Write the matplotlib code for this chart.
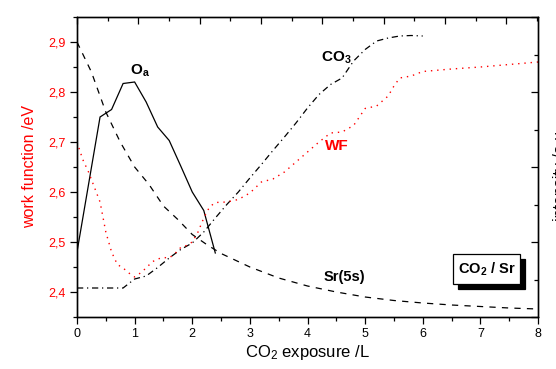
import matplotlib
matplotlib.use("Agg")
import matplotlib.pyplot as plt
from matplotlib.patches import Rectangle
from matplotlib.ticker import MultipleLocator, FixedLocator, FuncFormatter

plt.rcParams['font.family'] = ['Liberation Sans', 'DejaVu Sans']
plt.rcParams['mathtext.fontset'] = 'custom'
plt.rcParams['mathtext.rm'] = 'Liberation Sans'
plt.rcParams['mathtext.it'] = 'Liberation Sans:italic'
plt.rcParams['mathtext.bf'] = 'Liberation Sans:bold'

# ---- data ----
oa_x = [0, 0.4, 0.6, 0.8, 1.0, 1.2, 1.4, 1.6, 1.8, 2.0, 2.2, 2.4]
oa_y = [2.48, 2.75, 2.765, 2.817, 2.82, 2.78, 2.73, 2.703, 2.652, 2.60, 2.563, 2.478]

sr_x = [0, 0.25, 0.5, 0.75, 1.0, 1.25, 1.5, 1.75, 2.0, 2.25, 2.5, 3.0, 3.5, 4.0,
        4.5, 5.0, 5.5, 6.0, 6.5, 7.0, 7.5, 8.0]
sr_y = [2.90, 2.84, 2.76, 2.70, 2.65, 2.615, 2.572, 2.545, 2.515, 2.495, 2.477, 2.450,
        2.428, 2.412, 2.400, 2.390, 2.383, 2.378, 2.374, 2.371, 2.368, 2.366]

co3_x = [0, 0.8, 1.0, 1.2, 1.4, 1.6, 1.8, 2.0, 2.2, 2.4, 2.6, 2.8, 3.0, 3.2, 3.4,
         3.6, 3.8, 4.0, 4.2, 4.4, 4.6, 4.8, 5.0, 5.2, 5.4, 5.6, 5.8, 6.0]
co3_y = [2.408, 2.408, 2.426, 2.432, 2.449, 2.468, 2.485, 2.498, 2.52, 2.548, 2.575,
         2.60, 2.628, 2.655, 2.683, 2.71, 2.738, 2.768, 2.795, 2.815, 2.828, 2.862,
         2.885, 2.902, 2.908, 2.912, 2.913, 2.912]

wf_x = [0, 0.1, 0.2, 0.3, 0.4, 0.5, 0.6, 0.7, 0.8, 0.9, 1.0, 1.1, 1.2, 1.3, 1.4, 1.5,
        1.6, 1.7, 1.8, 1.9, 2.0, 2.1, 2.2, 2.3, 2.4, 2.6, 2.8, 3.0, 3.2, 3.4, 3.6, 3.8,
        4.0, 4.2, 4.4, 4.6, 4.8, 4.9, 5.0, 5.2, 5.4, 5.5, 5.6, 5.8, 6.0, 6.5, 7.0,
        7.5, 8.0]
wf_y = [2.70, 2.665, 2.64, 2.61, 2.58, 2.52, 2.48, 2.455, 2.448, 2.438, 2.430, 2.438,
        2.448, 2.46, 2.466, 2.469, 2.468, 2.477, 2.489, 2.493, 2.50, 2.52, 2.548,
        2.57, 2.579, 2.58, 2.585, 2.598, 2.62, 2.626, 2.64, 2.66, 2.68, 2.70, 2.718,
        2.72, 2.733, 2.75, 2.767, 2.772, 2.792, 2.812, 2.828, 2.832, 2.841, 2.846,
        2.850, 2.855, 2.860]

left_ticks = [2.4, 2.5, 2.6, 2.7, 2.8, 2.9]
x_ticks = [0, 1, 2, 3, 4, 5, 6, 7, 8]

# ---- figure ----
fig = plt.figure(figsize=(5.56, 3.69), dpi=100)
ax = fig.add_axes([77/556, 1-317/369, 461/556, 300/369])

ax.plot(oa_x, oa_y, color='black', lw=0.9, solid_joinstyle='miter')
l_sr, = ax.plot(sr_x, sr_y, color='black', lw=0.9)
l_sr.set_dashes([5, 5])
l_co3, = ax.plot(co3_x, co3_y, color='black', lw=0.9)
l_co3.set_dashes([5, 3, 1, 3])
l_wf, = ax.plot(wf_x, wf_y, color='#ff0000', lw=1.0)
l_wf.set_dashes([1, 3.5])

ax.set_xlim(0, 8)
ax.set_ylim(2.35, 2.95)
ax.xaxis.set_major_locator(FixedLocator(x_ticks))
ax.xaxis.set_minor_locator(MultipleLocator(0.5))
ax.yaxis.set_major_locator(FixedLocator(left_ticks))
ax.yaxis.set_minor_locator(MultipleLocator(0.05))
ax.yaxis.set_major_formatter(FuncFormatter(lambda v, p: f'{v:.1f}'.replace('.', ',')))
ax.tick_params(axis='both', which='major', direction='out', length=5, width=0.9,
               labelsize=9, pad=3)
ax.tick_params(axis='both', which='minor', direction='out', length=3, width=0.9)
ax.tick_params(axis='y', which='both', labelcolor='#ff0000')
for s in ax.spines.values():
    s.set_linewidth(0.9)

ax.set_xlabel(r'CO$_2$ exposure /L', fontsize=12, labelpad=2)
ax.set_ylabel('work function /eV', fontsize=11.5, color='#ff0000', labelpad=8)

# secondary top axis (ticks only)
axt = ax.twiny()
axt.set_xlim(0, 461/61.35)
axt.xaxis.set_major_locator(MultipleLocator(1))
axt.xaxis.set_minor_locator(MultipleLocator(0.5))
axt.tick_params(axis='x', which='major', direction='in', length=5, width=0.9, labeltop=False)
axt.tick_params(axis='x', which='minor', direction='in', length=3, width=0.9)

# secondary right axis (ticks only)
axr = ax.twinx()
axr.set_ylim(0, 4)
axr.yaxis.set_major_locator(MultipleLocator(1))
axr.yaxis.set_minor_locator(MultipleLocator(0.5))
axr.tick_params(axis='y', which='major', direction='in', length=5, width=0.9, labelright=False)
axr.tick_params(axis='y', which='minor', direction='in', length=3, width=0.9)
for a in (axt, axr):
    for s in a.spines.values():
        s.set_linewidth(0.9)

# labels
ax.text(1.09, 2.842, r'$\mathbf{O_a}$', fontsize=11, ha='center', va='center')
ax.text(4.5, 2.868, r'$\mathbf{CO_3}$', fontsize=11, ha='center', va='center')
ax.text(4.51, 2.692, 'WF', fontsize=11, fontweight='bold', color='#ff0000',
        ha='center', va='center')
ax.text(4.64, 2.430, 'Sr(5s)', fontsize=10.5, fontweight='bold', ha='center', va='center')

# framed label with drop shadow (axes-fraction geometry)
bx0, by0, bw, bh = 0.816, 0.109, 0.146, 0.100
sdx, sdy = 5 / 461, 5 / 300
axr.add_patch(Rectangle((bx0 + sdx, by0 - sdy), bw, bh, transform=axr.transAxes,
                        fc='black', ec='black', lw=0.9, zorder=10))
axr.add_patch(Rectangle((bx0, by0), bw, bh, transform=axr.transAxes,
                        fc='white', ec='black', lw=0.9, zorder=11))
axr.text(bx0 + bw / 2, by0 + bh / 2, r'$\mathbf{CO_2}$' + ' / Sr',
         transform=axr.transAxes, fontsize=10.5, fontweight='bold',
         ha='center', va='center', color='black', zorder=12)

# clipped right axis title
fig.text(553/556, 0.53, 'intensity /a.u.', rotation=90, fontsize=11.5,
         ha='left', va='center')

fig.savefig('out.png', dpi=100)
